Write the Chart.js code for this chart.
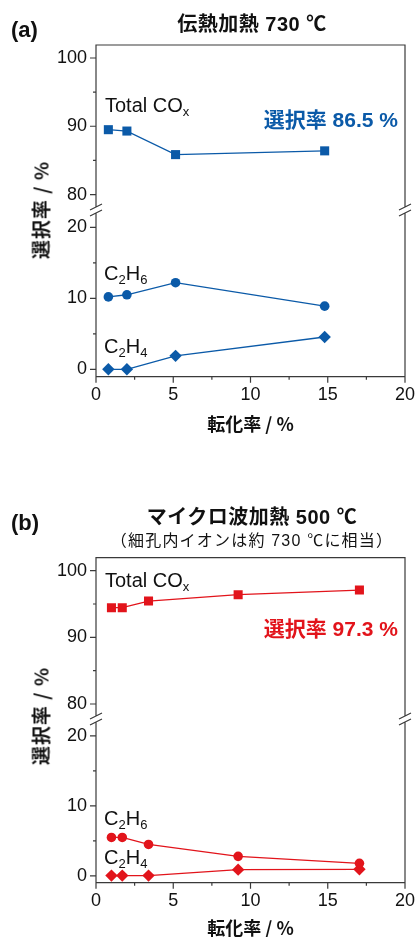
<!DOCTYPE html>
<html>
<head>
<meta charset="utf-8">
<script src="https://cdn.jsdelivr.net/npm/chart.js@4.4.1/dist/chart.umd.min.js"></script>
<style>
  body { margin: 0; background: #fff; width: 419px; height: 937px; position: relative; overflow: hidden;
    font-family: 'Liberation Sans', 'Noto Sans CJK JP', sans-serif; color: #111; }
  canvas { position: absolute; left: 0; }
  .lbl { position: absolute; white-space: nowrap; line-height: 1; }
  .jp { font-family: 'Liberation Sans', 'Noto Sans CJK JP', sans-serif; font-weight: bold; }
  .chem { font-size: 20px; }
  .chem sub { font-size: 13px; vertical-align: -4px; line-height: 0; }
  .sel { font-size: 21px; font-weight: bold; }
  .ytitle { position: absolute; left: 40px; white-space: nowrap; font-size: 19px; font-weight: bold; letter-spacing: 1px;
    font-family: 'Noto Sans CJK JP', sans-serif; transform: translate(-50%, -50%) rotate(-90deg); line-height: 1; }
</style>
</head>
<body>
<canvas id="chartA" width="419" height="450" style="top:0"></canvas>
<canvas id="chartB" width="419" height="457" style="top:480px"></canvas>

<div class="lbl jp" style="left:11px; top:19px; font-size:22px;">(a)</div>
<div class="lbl jp" style="left:252px; top:14px; font-size:20px; letter-spacing:0.5px; transform:translateX(-50%);">伝熱加熱 730 ℃</div>
<div class="lbl chem" style="left:105px; top:95px;">Total CO<sub>x</sub></div>
<div class="lbl sel" style="right:21px; top:109px; color:#0b5aa8;">選択率 86.5 %</div>
<div class="lbl chem" style="left:104px; top:263px;">C<sub>2</sub>H<sub>6</sub></div>
<div class="lbl chem" style="left:104px; top:336px;">C<sub>2</sub>H<sub>4</sub></div>
<div class="ytitle" style="top:210px;">選択率 / %</div>

<div class="lbl jp" style="left:11px; top:512px; font-size:22px;">(b)</div>
<div class="lbl jp" style="left:252px; top:507px; font-size:20px; letter-spacing:0.5px; transform:translateX(-50%);">マイクロ波加熱 500 ℃</div>
<div class="lbl" style="left:252px; top:533px; font-size:16px; letter-spacing:1.2px; transform:translateX(-50%); font-family:'Liberation Sans','Noto Sans CJK JP',sans-serif;">（細孔内イオンは約 730 ℃に相当）</div>
<div class="lbl chem" style="left:105px; top:570px;">Total CO<sub>x</sub></div>
<div class="lbl sel" style="right:21px; top:618px; color:#e2141b;">選択率 97.3 %</div>
<div class="lbl chem" style="left:104px; top:808px;">C<sub>2</sub>H<sub>6</sub></div>
<div class="lbl chem" style="left:104px; top:847px;">C<sub>2</sub>H<sub>4</sub></div>
<div class="ytitle" style="top:716px;">選択率 / %</div>

<script>
// (a) conventional heating, 730 C
const convX = [0.8, 2.0, 5.15, 14.8];
const convCOx = [89.5, 89.3, 85.85, 86.4];
const convC2H6 = [10.2, 10.5, 12.2, 8.9];
const convC2H4 = [0.0, 0.0, 1.9, 4.55];

// (b) microwave heating, 500 C
const mwX = [1.0, 1.7, 3.4, 9.2, 17.05];
const mwCOx = [94.45, 94.45, 95.45, 96.4, 97.1];
const mwC2H6 = [5.5, 5.5, 4.5, 2.8, 1.8];
const mwC2H4 = [0.05, 0.05, 0.05, 0.9, 0.95];

const xTitle = '転化率 / %';
const blue = '#0b5aa8';
const red = '#e2141b';
const axisFont = { family: "'Liberation Sans', sans-serif", size: 18 };

// draws the box, the // break marks and the tick marks
const frameTicks = {
  id: 'frameTicks',
  afterDraw(chart) {
    const ctx = chart.ctx;
    const a = chart.chartArea;
    const top = chart.scales.yTop, bot = chart.scales.yBot, xs = chart.scales.x;
    const brk = top.bottom;
    const g = 3;
    ctx.save();
    ctx.strokeStyle = '#3a3a3a';
    ctx.lineWidth = 1.2;
    ctx.beginPath();
    ctx.moveTo(a.left, brk - g); ctx.lineTo(a.left, a.top); ctx.lineTo(a.right, a.top); ctx.lineTo(a.right, brk - g);
    ctx.moveTo(a.left, brk + g); ctx.lineTo(a.left, a.bottom); ctx.lineTo(a.right, a.bottom); ctx.lineTo(a.right, brk + g);
    [a.left, a.right].forEach(function(px) {
      [-g, g].forEach(function(dy) {
        ctx.moveTo(px - 6, brk + dy + 3);
        ctx.lineTo(px + 6, brk + dy - 3);
      });
    });
    [top, bot].forEach(function(s) {
      s.ticks.forEach(function(t) {
        const py = s.getPixelForValue(t.value);
        const len = t.value % 10 === 0 ? 6 : 3;
        ctx.moveTo(a.left - len, py);
        ctx.lineTo(a.left, py);
      });
    });
    xs.ticks.forEach(function(t) {
      const px = xs.getPixelForValue(t.value);
      const len = t.value % 5 === 0 ? 6 : 3;
      ctx.moveTo(px, a.bottom);
      ctx.lineTo(px, a.bottom + len);
    });
    ctx.stroke();
    ctx.restore();
  }
};

function makeChart(id, xs, cox, c2h6, c2h4, color, g) {
  const pts = function(ys) { return xs.map(function(x, i) { return { x: x, y: ys[i] }; }); };
  const ds = function(ys, axis, style, r) {
    return {
      data: pts(ys), yAxisID: axis, borderColor: color, backgroundColor: color,
      borderWidth: 1.3, pointStyle: style, pointRadius: r, pointBorderWidth: 0
    };
  };
  return new Chart(document.getElementById(id), {
    type: 'line',
    data: {
      datasets: [
        ds(cox, 'yTop', 'rect', 6.4),
        ds(c2h6, 'yBot', 'circle', 4.8),
        ds(c2h4, 'yBot', 'rectRot', 6.2)
      ]
    },
    options: {
      responsive: false,
      animation: false,
      layout: { padding: { top: g.padTop, right: 14, left: 0, bottom: 0 } },
      plugins: { legend: { display: false }, tooltip: { enabled: false } },
      scales: {
        x: {
          type: 'linear', min: 0, max: 20,
          grid: { display: false, drawTicks: false }, border: { display: false },
          ticks: { stepSize: 2.5, autoSkip: false, maxRotation: 0, padding: 8, font: axisFont, color: '#111',
            callback: function(v) { return v % 5 === 0 ? v : ''; } },
          title: { display: true, text: xTitle, color: '#111',
            font: { family: "'Noto Sans CJK JP', sans-serif", size: 18, weight: 'bold', lineHeight: 1 },
            padding: { top: 0, bottom: g.titlePad } },
          afterFit: function(s) { s.height = g.xHeight; s.paddingLeft = 0; s.paddingRight = 0; }
        },
        yBot: {
          type: 'linear', position: 'left', stack: 'y', stackWeight: g.botWeight,
          min: g.botMin, max: g.botMax,
          grid: { display: false, drawTicks: false }, border: { display: false },
          ticks: { stepSize: 5, includeBounds: false, autoSkip: false, padding: 9, font: axisFont, color: '#111',
            callback: function(v) { return v % 10 === 0 ? v : ''; } },
          afterFit: function(s) { s.width = 96; s.paddingTop = 0; s.paddingBottom = 0; }
        },
        yTop: {
          type: 'linear', position: 'left', stack: 'y', stackWeight: g.topWeight,
          min: g.topMin, max: g.topMax,
          grid: { display: false, drawTicks: false }, border: { display: false },
          ticks: { stepSize: 5, includeBounds: false, autoSkip: false, padding: 9, font: axisFont, color: '#111',
            callback: function(v) { return v % 10 === 0 ? v : ''; } },
          afterFit: function(s) { s.width = 96; s.paddingTop = 0; s.paddingBottom = 0; }
        }
      }
    },
    plugins: [frameTicks]
  });
}

makeChart('chartA', convX, convCOx, convC2H6, convC2H4, blue, {
  padTop: 45, xHeight: 73.3, titlePad: 17,
  topMin: 77.74, topMax: 101.9, topWeight: 165,
  botMin: -1.04, botMax: 22.44, botWeight: 166.7
});

makeChart('chartB', mwX, mwCOx, mwC2H6, mwC2H4, red, {
  padTop: 77.7, xHeight: 54.3, titlePad: 0,
  topMin: 77.75, topMax: 101.95, topWeight: 161.3,
  botMin: -0.96, botMax: 22.4, botWeight: 163.7
});
</script>
</body>
</html>
